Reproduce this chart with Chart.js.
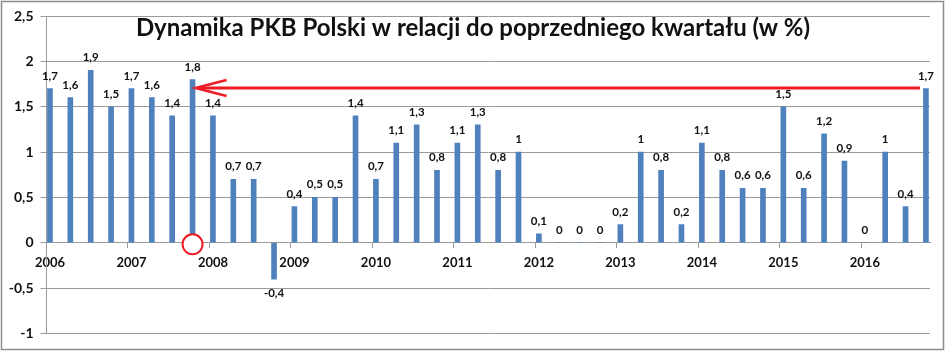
<!DOCTYPE html>
<html>
<head>
<meta charset="utf-8">
<script src="https://cdn.jsdelivr.net/npm/chart.js@4/dist/chart.umd.min.js"></script>
<style>
  body { margin: 0; background: #fff; }
  canvas { display: block; }
</style>
</head>
<body>
<canvas id="pkbChart" width="945" height="351"></canvas>
<script>
// kwartały 2006 Q1 - 2016 Q4
const years = ["2006", "2007", "2008", "2009", "2010", "2011", "2012", "2013", "2014", "2015", "2016"];
const quarters = years.flatMap(y => ["Q1", "Q2", "Q3", "Q4"].map(q => y + " " + q));
const values = [
  1.7, 1.6, 1.9, 1.5,
  1.7, 1.6, 1.4, 1.8,
  1.4, 0.7, 0.7, -0.4,
  0.4, 0.5, 0.5, 1.4,
  0.7, 1.1, 1.3, 0.8,
  1.1, 1.3, 0.8, 1,
  0.1, 0, 0, 0,
  0.2, 1, 0.8, 0.2,
  1.1, 0.8, 0.6, 0.6,
  1.5, 0.6, 1.2, 0.9,
  0, 1, 0.4, 1.7
];
const yTicks = [-1, -0.5, 0, 0.5, 1, 1.5, 2, 2.5];
const title = "Dynamika PKB Polski w relacji do poprzedniego kwartału (w %)";
// strzałka: od ostatniego kwartału do 2007 Q4
const arrowFrom = 43;
const arrowTo = 7;

const fmt = v => String(v).replace(".", ",");
const red = "#ec1c24";

const frame = {
  id: "frame",
  beforeDraw(chart) {
    const ctx = chart.ctx;
    ctx.save();
    ctx.fillStyle = "#fff";
    ctx.fillRect(0, 0, chart.width, chart.height);
    ctx.strokeStyle = "#8c8c8c";
    ctx.lineWidth = 1.5;
    ctx.strokeRect(1.5, 1.5, chart.width - 3, chart.height - 3);
    ctx.restore();
  }
};

const labelsPlugin = {
  id: "barLabels",
  afterDatasetsDraw(chart) {
    const ctx = chart.ctx;
    const meta = chart.getDatasetMeta(0);
    ctx.save();
    ctx.font = "bold 11.5px Lato";
    ctx.fillStyle = "#111";
    ctx.textAlign = "center";
    meta.data.forEach((bar, i) => {
      const v = values[i];
      if (v < 0) {
        ctx.textBaseline = "top";
        ctx.fillText(fmt(v), bar.x, bar.y + 8);
      } else {
        ctx.textBaseline = "alphabetic";
        ctx.fillText(fmt(v), bar.x, bar.y - 9);
      }
    });
    ctx.restore();
  },
  afterDraw(chart) {
    const ctx = chart.ctx;
    const xs = chart.scales.x, ys = chart.scales.y;
    ctx.save();
    // tytuł
    ctx.font = "bold 24px Lato";
    ctx.fillStyle = "#111";
    ctx.textBaseline = "alphabetic";
    ctx.textAlign = "center";
    const w = ctx.measureText(title).width;
    const sx = Math.min(1, 712 / w);
    ctx.translate(473, 35.5);
    ctx.scale(sx, 1);
    ctx.fillText(title, 0, 0);
    ctx.setTransform(1, 0, 0, 1, 0, 0);

    // strzałka
    const ay = ys.getPixelForValue(values[arrowFrom]) - 0.5;
    const tipX = xs.getPixelForValue(arrowTo) + 3;
    const endX = xs.getPixelForValue(arrowFrom) - 6;
    ctx.strokeStyle = red;
    ctx.lineWidth = 3;
    ctx.beginPath();
    ctx.moveTo(endX, ay);
    ctx.lineTo(tipX + 2, ay);
    ctx.stroke();
    ctx.lineWidth = 2.5;
    ctx.beginPath();
    ctx.moveTo(tipX + 31, ay - 8);
    ctx.lineTo(tipX, ay);
    ctx.lineTo(tipX + 31, ay + 8);
    ctx.stroke();

    // kółko (białe wnętrze zasłania podstawę słupka)
    ctx.lineWidth = 2;
    ctx.fillStyle = "#fff";
    ctx.beginPath();
    ctx.arc(xs.getPixelForValue(arrowTo), ys.getPixelForValue(0) + 1.5, 10, 0, Math.PI * 2);
    ctx.fill();
    ctx.stroke();
    ctx.restore();
  }
};

new Chart(document.getElementById("pkbChart").getContext("2d"), {
  type: "bar",
  data: {
    labels: quarters,
    datasets: [{
      label: "PKB q/q",
      data: values.map((v, i) => ({ x: i, y: v })),
      backgroundColor: "#4f81bd",
      borderWidth: 0,
      barThickness: 5
    }]
  },
  options: {
    responsive: false,
    animation: false,
    devicePixelRatio: 1,
    layout: { padding: { left: 0, top: 16, right: 15, bottom: 17.5 } },
    plugins: {
      legend: { display: false },
      tooltip: { enabled: false },
      title: { display: false }
    },
    scales: {
      x: {
        type: "linear",
        position: { y: 0 },
        min: -0.17,
        max: 43.2,
        offset: false,
        afterBuildTicks: scale => {
          scale.ticks = years.map((y, k) => ({ value: k * 4 - 0.17 }));
        },
        ticks: {
          autoSkip: false,
          maxRotation: 0,
          labelOffset: 3.5,
          padding: 7,
          color: "#111",
          font: { family: "Lato", size: 13, weight: "bold" },
          callback: (v, i) => years[i]
        },
        grid: {
          offset: false,
          drawOnChartArea: false,
          drawTicks: true,
          tickLength: 5,
          color: "#9a9a9a"
        },
        border: { color: "#9a9a9a", width: 1 }
      },
      y: {
        min: -1,
        max: 2.5,
        afterBuildTicks: scale => {
          scale.ticks = yTicks.map(v => ({ value: v }));
        },
        afterFit: scale => { scale.width = 46.5; },
        ticks: {
          padding: 7,
          color: "#111",
          font: { family: "Lato", size: 14, weight: "bold" },
          callback: v => fmt(v)
        },
        grid: {
          color: "#9a9a9a",
          tickLength: 6
        },
        border: { color: "#9a9a9a", width: 1 }
      }
    }
  },
  plugins: [frame, labelsPlugin]
});
</script>
</body>
</html>
